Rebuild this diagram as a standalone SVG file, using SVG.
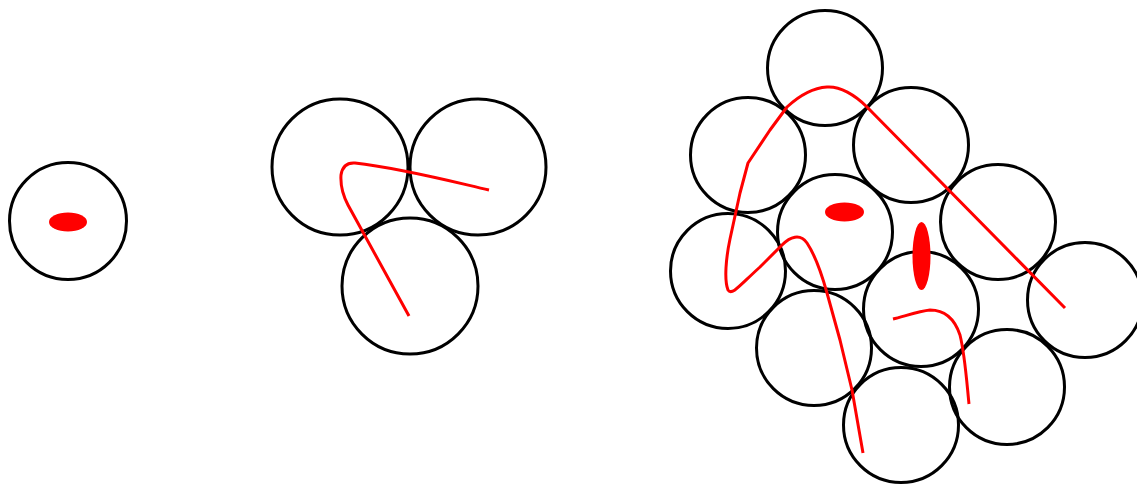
<svg xmlns="http://www.w3.org/2000/svg" width="1137" height="485" viewBox="0 0 1137 485">
<style>
.c{fill:none;stroke:#000;stroke-width:3}
.r{fill:none;stroke:#f00;stroke-width:3;stroke-linecap:butt;stroke-linejoin:round}
.e{fill:#f00;stroke:none}
</style>
<rect width="1137" height="485" fill="#fff"/>
<g id="single">
<circle class="c" cx="68" cy="221" r="58.5"/>
<ellipse class="e" cx="68" cy="222" rx="19" ry="9.5"/>
</g>
<g id="triple">
<circle class="c" cx="340" cy="167" r="68"/>
<circle class="c" cx="478" cy="167" r="68"/>
<circle class="c" cx="410" cy="286" r="68"/>
</g>
<g id="cluster">
<circle class="c" cx="825" cy="68" r="57.5"/>
<circle class="c" cx="748" cy="155" r="57.5"/>
<circle class="c" cx="911" cy="145" r="57.5"/>
<circle class="c" cx="835" cy="232" r="57.5"/>
<circle class="c" cx="998" cy="222" r="57.5"/>
<circle class="c" cx="728" cy="271" r="57.5"/>
<circle class="c" cx="921" cy="309" r="57.5"/>
<circle class="c" cx="1085" cy="300" r="57.5"/>
<circle class="c" cx="814" cy="348" r="57.5"/>
<circle class="c" cx="1007" cy="387" r="57.5"/>
<circle class="c" cx="901" cy="425" r="57.5"/>
<ellipse class="e" cx="844.5" cy="212" rx="19.5" ry="9.5"/>
<ellipse class="e" cx="921.5" cy="256" rx="9" ry="34"/>
</g>
<g id="connectors">
<path class="r" d="M489,190 C450,181 400,168 355,163 Q343,162 341,175 Q340,190 348,205 L409,316"/>
<path class="r" d="M1065,308 L867,107 C855,95 840,86 827,87 C812,88 800,95 787,107 L770,130 L748,163 L740,193 L730,239 C726,258 724,280 728,290 C732,296 740,285 760,267 L782,245 C790,237 800,233 807,243 C815,255 822,275 827,293 L840,340 L852,390 L863,453"/>
<path class="r" d="M893,319 C905,316 920,311 930,310 C945,310 955,320 960,335 C965,355 967,385 969,404"/>
</g>
</svg>
